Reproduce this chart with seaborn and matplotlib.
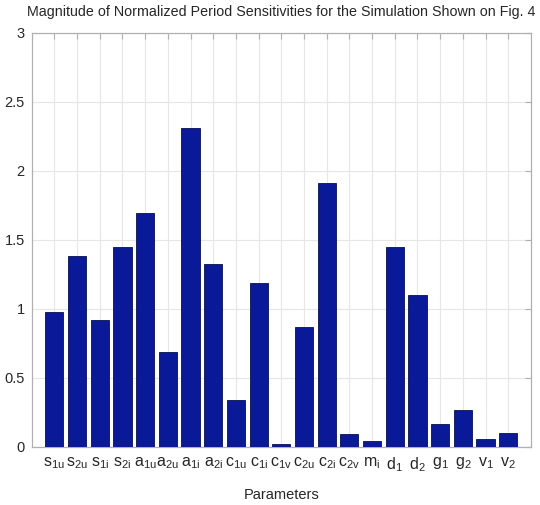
import matplotlib
matplotlib.use('Agg')
import matplotlib.pyplot as plt
import seaborn as sns
import pandas as pd

names = ['s_{1u}', 's_{2u}', 's_{1i}', 's_{2i}', 'a_{1u}', 'a_{2u}', 'a_{1i}', 'a_{2i}',
         'c_{1u}', 'c_{1i}', 'c_{1v}', 'c_{2u}', 'c_{2i}', 'c_{2v}', 'm_{i}', 'd_{1}',
         'd_{2}', 'g_{1}', 'g_{2}', 'v_{1}', 'v_{2}']
sens = [0.978, 1.384, 0.918, 1.445, 1.691, 0.69, 2.312, 1.324,
        0.335, 1.184, 0.018, 0.868, 1.913, 0.09, 0.04, 1.449,
        1.099, 0.162, 0.266, 0.054, 0.097]
yticks = [0, 0.5, 1, 1.5, 2, 2.5, 3]

sns.set_style('white')
plt.rcParams['font.family'] = ['Liberation Sans', 'DejaVu Sans']
plt.rcParams['mathtext.fontset'] = 'custom'
plt.rcParams['mathtext.rm'] = 'Liberation Sans'
plt.rcParams['mathtext.it'] = 'Liberation Sans'
plt.rcParams['mathtext.default'] = 'regular'

frame = pd.DataFrame({'param': ['$' + n + '$' for n in names], 'value': sens})

fig = plt.figure(figsize=(5.4, 5.05), dpi=100)
ax = fig.add_axes([0.0587, 0.1154, 0.9245, 0.8198])
sns.barplot(data=frame, x='param', y='value', color='#0a1997', width=0.8,
            saturation=1, edgecolor='#06104f', linewidth=0.6, ax=ax, zorder=3)

ax.set_xlim(-1, 21)
ax.set_ylim(0, 3)
ax.set_yticks(yticks)
ax.set_yticklabels(['0', '0.5', '1', '1.5', '2', '2.5', '3'])
ax.grid(True, color='#e6e6e6', linewidth=0.8, zorder=0)
ax.set_axisbelow(True)
for s in ax.spines.values():
    s.set_color('#b0b0b0')
    s.set_linewidth(0.9)
ax.tick_params(direction='in', length=4, color='#b0b0b0', top=True, right=True,
               labelsize=10.5, pad=5)
ax.tick_params(axis='x', labelsize=11.5, pad=6)
ax.set_xlabel('Parameters', fontsize=10.5, labelpad=10)
ax.set_ylabel('')
ax.set_title('Magnitude of Normalized Period Sensitivities for the Simulation Shown on Fig. 4',
             fontsize=10.3, pad=12, x=0.5)

fig.savefig('out.png', dpi=100)
